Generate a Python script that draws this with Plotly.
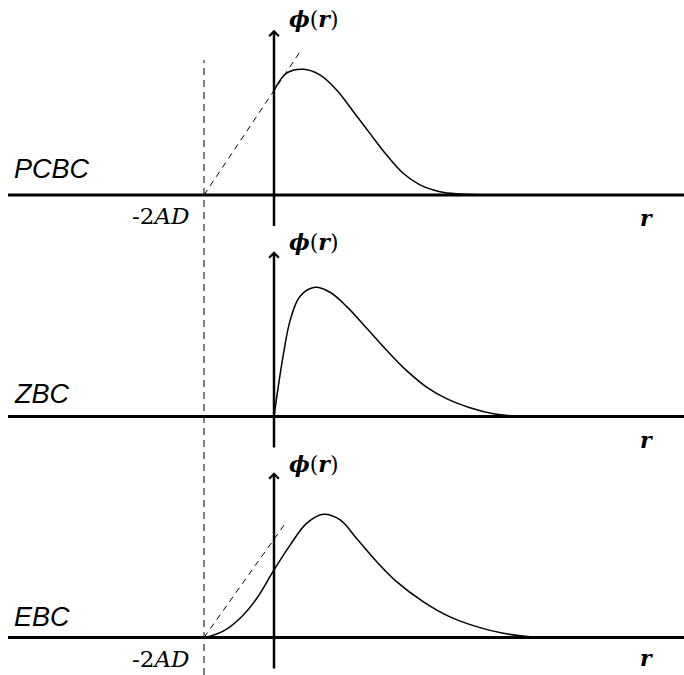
import plotly.graph_objects as go

# schematic flux profiles for three boundary conditions (x in units of AD/1, arbitrary y)
PCBC_X = [0, 0.36, 0.84, 1.31, 1.79, 2.27, 2.74, 3.22, 3.69, 4.17, 4.74, 5.31, 6.17]
PCBC_Y = [2.98, 3.48, 3.59, 3.43, 3.0, 2.38, 1.76, 1.14, 0.62, 0.29, 0.095, 0.03, 0]

ZBC_X = [0, 0.12, 0.27, 0.46, 0.74, 1.17, 1.6, 2.08, 2.65, 3.22, 3.79, 4.36, 4.93, 5.6, 6.27, 6.93, 7.5]
ZBC_Y = [0, 0.84, 1.79, 2.74, 3.43, 3.69, 3.55, 3.14, 2.52, 1.89, 1.31, 0.84, 0.51, 0.25, 0.077, 0.009, 0]

EBC_X = [-1.97, -1.45, -0.97, -0.49, 0, 0.46, 0.93, 1.41, 1.89, 2.36, 2.93, 3.51, 4.27, 5.03, 5.79, 6.55, 7.31, 8.08]
EBC_Y = [0, 0.18, 0.55, 1.12, 1.93, 2.64, 3.26, 3.52, 3.36, 2.83, 2.17, 1.59, 1.02, 0.59, 0.31, 0.12, 0.023, 0]

# extrapolation lines down to the extrapolated boundary at -2AD
PCBC_EXTRAP_X = [-2, 0.74]
PCBC_EXTRAP_Y = [0, 4.09]
EBC_EXTRAP_X = [-2, 0.3]
EBC_EXTRAP_Y = [0, 3.23]

BOUNDARY_X = -2
PANEL_NAMES = ["PCBC", "ZBC", "EBC"]

W, H = 684, 675
PX = 35.0  # pixels per unit
X_ORIGIN = 274
# (top px, bottom px, baseline px) for each panel
BANDS = [(0, 230, 195), (230, 450, 416.5), (450, 675, 637.5)]

fig = go.Figure()

curves = [(PCBC_X, PCBC_Y), (ZBC_X, ZBC_Y), (EBC_X, EBC_Y)]
extraps = {0: (PCBC_EXTRAP_X, PCBC_EXTRAP_Y), 2: (EBC_EXTRAP_X, EBC_EXTRAP_Y)}

for i, (cx, cy) in enumerate(curves):
    ya = "y" if i == 0 else "y%d" % (i + 1)
    fig.add_trace(go.Scatter(x=cx, y=cy, mode="lines", xaxis="x", yaxis=ya,
                             line=dict(color="black", width=1.5, shape="spline", smoothing=1.0),
                             hoverinfo="skip", showlegend=False))
    if i in extraps:
        ex, ey = extraps[i]
        fig.add_trace(go.Scatter(x=ex, y=ey, mode="lines", xaxis="x", yaxis=ya,
                                 line=dict(color="black", width=1, dash="6px,5px"),
                                 hoverinfo="skip", showlegend=False))

layout = dict(width=W, height=H, margin=dict(l=0, r=0, t=0, b=0),
              paper_bgcolor="white", plot_bgcolor="white",
              xaxis=dict(domain=[0, 1], range=[-X_ORIGIN / PX, (W - X_ORIGIN) / PX],
                         visible=False, fixedrange=True))
shapes = []
annotations = []

label_dy = [26, 22.5, 21]      # px above baseline for the panel name
phi_dy = [176, 174.5, 173.5]   # px above baseline for phi(r)
r_dy = [-22.5, -23.5, -20]     # px below baseline for r
serif = "DejaVu Serif, Liberation Serif, serif"

for i, (top, bot, base) in enumerate(BANDS):
    key = "yaxis" if i == 0 else "yaxis%d" % (i + 1)
    yref = "y" if i == 0 else "y%d" % (i + 1)
    layout[key] = dict(domain=[1 - bot / H, 1 - top / H],
                       range=[-(bot - base) / PX, (base - top) / PX],
                       visible=False, fixedrange=True, anchor="x")
    # horizontal r axis
    shapes.append(dict(type="line", xref="x", yref=yref, x0=(8 - X_ORIGIN) / PX,
                       x1=(W - X_ORIGIN) / PX + 0.2, y0=0, y1=0,
                       line=dict(color="black", width=3)))
    # vertical phi axis with arrow
    annotations.append(dict(xref="x", yref=yref, axref="x", ayref=yref,
                            x=0, y=4.72, ax=0, ay=-0.93, text="", showarrow=True,
                            arrowhead=4, arrowsize=0.75, arrowwidth=2.5, arrowcolor="black"))
    annotations.append(dict(xref="x", yref=yref, x=(12 - X_ORIGIN) / PX, y=label_dy[i] / PX,
                            xanchor="left", yanchor="middle", showarrow=False,
                            text="<i>%s</i>" % PANEL_NAMES[i],
                            font=dict(family="Liberation Sans, Arial, sans-serif", size=27, color="black")))
    annotations.append(dict(xref="x", yref=yref, x=(287 - X_ORIGIN) / PX, y=phi_dy[i] / PX,
                            xanchor="left", yanchor="middle", showarrow=False,
                            text="<b><i>ϕ</i></b>(<b><i>r</i></b>)",
                            font=dict(family=serif, size=22, color="black")))
    annotations.append(dict(xref="x", yref=yref, x=(646 - X_ORIGIN) / PX, y=r_dy[i] / PX,
                            xanchor="center", yanchor="middle", showarrow=False,
                            text="<b><i>r</i></b>",
                            font=dict(family=serif, size=22, color="black")))
    if i != 1:
        annotations.append(dict(xref="x", yref=yref, x=(191 - X_ORIGIN) / PX, y=-21 / PX,
                                xanchor="right", yanchor="middle", showarrow=False,
                                text="-2<i>AD</i>",
                                font=dict(family=serif, size=23, color="black")))

# extrapolated boundary, spans all three panels
shapes.append(dict(type="line", xref="x", yref="paper", x0=BOUNDARY_X, x1=BOUNDARY_X,
                   y0=0, y1=1 - 60 / H, line=dict(color="black", width=1, dash="7px,5px")))

layout["shapes"] = shapes
layout["annotations"] = annotations
fig.update_layout(**layout)

fig.write_html("out.html", config={"displayModeBar": False},
               post_script="document.body.style.margin='0';document.body.style.overflow='hidden';")
